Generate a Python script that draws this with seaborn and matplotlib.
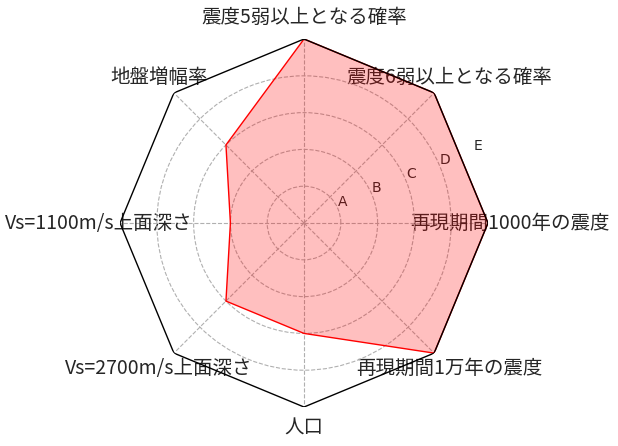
import numpy as np
import pandas as pd
import matplotlib
matplotlib.use('Agg')
import matplotlib.pyplot as plt
import seaborn as sns


labels = [
    '震度5弱以上となる確率', '震度6弱以上となる確率', '再現期間1000年の震度',
    '再現期間1万年の震度', '人口', 'Vs=2700m/s上面深さ',
    'Vs=1100m/s上面深さ', '地盤増幅率'
]
values = [5, 5, 5, 5, 3, 3, 2, 3]
rank_ticks = [1, 2, 3, 4, 5]
rank_labels = ['A', 'B', 'C', 'D', 'E']

sns.set_style('white')
plt.rcParams['font.family'] = ['Noto Sans CJK JP', 'DejaVu Sans']

n = len(labels)
# first axis at the top, going clockwise
theta = np.mod(np.pi / 2 - 2 * np.pi * np.arange(n) / n, 2 * np.pi)

df = pd.DataFrame({'theta': np.append(theta, theta[0]),
                   'value': values + values[:1]})

fig = plt.figure(figsize=(6.18, 4.46), dpi=100)
ax = fig.add_axes([0.1942, 0.0874, 368 / 618, 368 / 446], projection='polar')

ax.fill(df['theta'], df['value'], color='red', alpha=0.25, lw=0)
sns.lineplot(data=df, x='theta', y='value', sort=False, estimator=None,
             color='red', lw=1, ax=ax)

# octagon frame
ax.plot(np.append(theta, theta[0]), [rank_ticks[-1]] * (n + 1), color='black', lw=1)
ax.spines['polar'].set_visible(False)

ax.set_ylim(0, 5)
ax.set_yticks(rank_ticks)
ax.set_yticklabels(rank_labels, fontsize=10, family='DejaVu Sans')
ax.set_xticks(theta)
ax.set_xticklabels(labels, fontsize=14)
ax.tick_params(axis='x', pad=5)
ax.grid(True, linestyle='--', color='#b0b0b0', lw=0.8)
ax.yaxis.get_gridlines()[-1].set_visible(False)
ax.set_xlabel('')
ax.set_ylabel('')

fig.savefig('out.png', dpi=100)
